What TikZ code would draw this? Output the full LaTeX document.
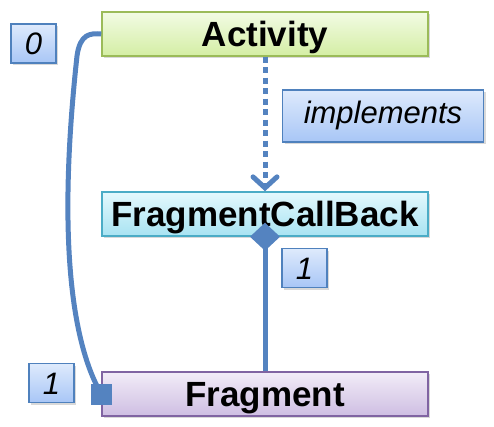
\documentclass[tikz,border=0pt]{standalone}
\usepackage{fontspec}
\setmainfont{Liberation Sans}
\usetikzlibrary{arrows.meta}
\usetikzlibrary{positioning}
\usetikzlibrary{shadows}
\definecolor{linkblue}{RGB}{84,131,192}
\definecolor{actline}{RGB}{155,187,89}
\definecolor{acttop}{RGB}{242,251,228}
\definecolor{actbot}{RGB}{212,238,164}
\definecolor{cbline}{RGB}{75,172,198}
\definecolor{cbtop}{RGB}{228,249,253}
\definecolor{cbbot}{RGB}{168,227,242}
\definecolor{fragline}{RGB}{128,100,162}
\definecolor{fragtop}{RGB}{242,236,248}
\definecolor{fragbot}{RGB}{206,190,226}
\definecolor{multline}{RGB}{79,129,189}
\definecolor{multtop}{RGB}{222,234,252}
\definecolor{multbot}{RGB}{168,198,246}
\newcommand{\classbox}[4]{\node(#1)[#2] at (#3){#4}}
\newcommand{\mult}[3]{\node(#1)[mult] at (#2){#3}}

\begin{document}
\begin{tikzpicture}[
        x=1pt,y=-1pt,
        every node/.style={font=\bfseries\fontsize{35}{40}\selectfont},
        cls/.style={rectangle,minimum width=326pt,minimum height=44pt,
                    inner sep=0pt,text height=25pt,text depth=0pt,line width=1.5pt,
                    drop shadow={opacity=0.3,shadow xshift=2pt,shadow yshift=-2pt}},
        act/.style={cls,draw=actline,top color=acttop,bottom color=actbot},
        cb/.style={cls,draw=cbline,top color=cbtop,bottom color=cbbot},
        frag/.style={cls,draw=fragline,top color=fragtop,bottom color=fragbot},
        mult/.style={rectangle,minimum width=45pt,minimum height=39pt,inner sep=0pt,
                     text height=22pt,text depth=0pt,line width=1.5pt,draw=multline,
                     top color=multtop,bottom color=multbot,
                     font=\itshape\fontsize{31}{34}\selectfont,
                     drop shadow={opacity=0.3,shadow xshift=2pt,shadow yshift=-2pt}},
        note/.style={mult,minimum width=201pt,minimum height=52pt,
                     text height=22pt,text depth=6pt,font=\itshape\fontsize{31}{34}\selectfont},
        link/.style={draw=linkblue,line width=5pt},
        endmark/.style={rectangle,fill=linkblue,minimum size=21pt,inner sep=0pt}
      ]
      \useasboundingbox (0,0) rectangle (494,427);

      % The three classes, one under the other
      \classbox{activity}{act}{265,34}{Activity};
      \classbox{callback}{cb}{265,214}{FragmentCallBack};
      \classbox{fragment}{frag}{265,394}{Fragment};

      % Multiplicities and the note on the dotted arrow
      \mult{mzero}{33.5,43.5}{0};
      \mult{mcb}{304.5,268}{1};
      \mult{mfrag}{51.5,383}{1};
      \node(impl)[note] at (383,116){implements};

      % Activity implements the callback interface
      \draw[link,dash pattern=on 6pt off 4.5pt,
            -{Straight Barb[length=11pt,width=24pt,line width=5pt,line cap=round]}]
        (activity.south) -- (callback.north);

      % Callback owns the fragment
      \draw[link,{Diamond[length=28pt,width=30pt]}-,shorten <=-14pt]
        (callback.south) -- (fragment.north);

      % Activity to fragment, with the square end on the fragment
      \draw[link] (activity.west) .. controls (90,33) and (80,34) .. (77,56)
        .. controls (58,230) and (70,340) .. (fragment.west);
      \node(fragend)[endmark] at (fragment.west){};
    \end{tikzpicture}
\end{document}
